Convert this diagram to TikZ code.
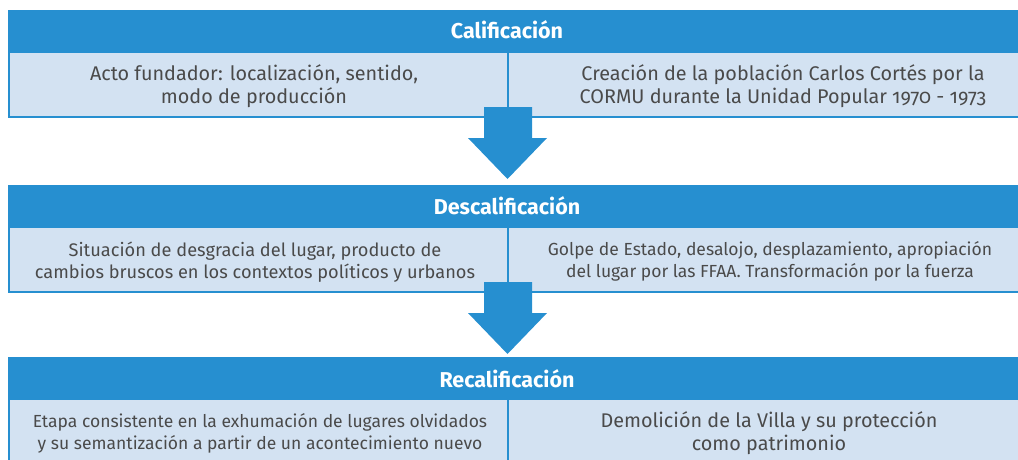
\documentclass[tikz,border=0pt]{standalone}
\usepackage{fontspec}
\setmainfont{Fira Sans}[Numbers=OldStyle]
\definecolor{hblue}{HTML}{268FD0}
\definecolor{lblue}{HTML}{D3E2F2}
\definecolor{tgray}{HTML}{4A4A4A}
\tikzset{
  hdr/.style={fill=hblue, draw=none, anchor=north west, minimum width=1040pt, minimum height=43pt, inner sep=0pt},
  cell/.style={fill=lblue, draw=none, anchor=north west, minimum height=64pt, inner sep=0pt},
  htext/.style={text=white, font=\bfseries\fontsize{21.5}{25}\selectfont, anchor=base, inner sep=0pt},
  btext/.style={text=tgray, font=\fontsize{19.8}{23}\selectfont, align=center, anchor=base, inner sep=0pt},
  stext/.style={text=tgray, font=\fontsize{18.2}{22}\selectfont, align=center, anchor=base, inner sep=0pt},
  xtext/.style={text=tgray, font=\fontsize{17.5}{22}\selectfont, align=center, anchor=base, inner sep=0pt},
  edge/.style={draw=hblue, line width=2pt},
  bigarrow/.style={fill=hblue, draw=none}
}
\begin{document}
\begin{tikzpicture}[x=1pt,y=-1pt]
\useasboundingbox (0,0) rectangle (1018,460);
% Section 1
\node[hdr] (h1) at (8,10) {};
\node[cell, minimum width=499pt] (c1l) at (9,53) {};
\node[cell, minimum width=530pt] (c1r) at (508,53) {};
\draw[edge] (c1l.north west) -- (c1l.south west) -- (c1r.south east);
\draw[edge] (c1r.north west) -- (c1r.south west);
\node[htext] (t1) at (507,39) {Calificación};
\node[btext] (t1l) at (254,103) {Acto fundador: localización, sentido,\\modo de producción};
\node[btext] (t1r) at (783,103) {Creación de la población Carlos Cortés por la\\CORMU durante la Unidad Popular 1970 - 1973};
% Section 2
\node[hdr] (h2) at (8,185) {};
\node[cell, minimum width=499pt] (c2l) at (9,228) {};
\node[cell, minimum width=530pt] (c2r) at (508,228) {};
\draw[edge] (c2l.north west) -- (c2l.south west) -- (c2r.south east);
\draw[edge] (c2r.north west) -- (c2r.south west);
\node[htext] (t2) at (507,214) {Descalificación};
\node[stext] (t2l) at (255,278) {Situación de desgracia del lugar, producto de\\cambios bruscos en los contextos políticos y urbanos};
\node[xtext] (t2r) at (770,277) {Golpe de Estado, desalojo, desplazamiento, apropiación\\del lugar por las FFAA. Transformación por la fuerza};
% Section 3
\node[hdr] (h3) at (8,357) {};
\node[cell, minimum width=499pt] (c3l) at (9,400) {};
\node[cell, minimum width=530pt] (c3r) at (508,400) {};
\draw[edge] (c3l.north west) -- (c3l.south west);
\draw[edge] (c3r.north west) -- (c3r.south west);
\node[htext] (t3) at (507,387) {Recalificación};
\node[xtext] (t3l) at (260,449) {Etapa consistente en la exhumación de lugares olvidados\\y su semantización a partir de un acontecimiento nuevo};
\node[btext] (t3r) at (769,450) {Demolición de la Villa y su protección\\como patrimonio};
% Arrows
\fill[bigarrow] (484,107) -- (532,107) -- (532,138) -- (547,138) -- (507.5,179) -- (468,138) -- (484,138) -- cycle;
\fill[bigarrow] (484,282) -- (532,282) -- (532,313) -- (547,313) -- (507.5,354) -- (468,313) -- (484,313) -- cycle;
\end{tikzpicture}
\end{document}
